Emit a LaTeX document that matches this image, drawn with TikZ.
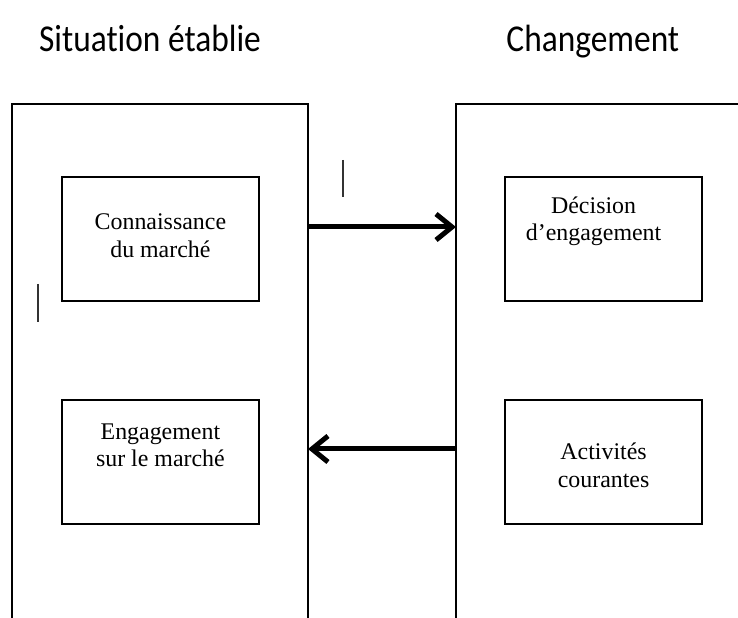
\documentclass[tikz,border=0pt]{standalone}
\usepackage{fontspec}
\setmainfont{Liberation Serif}
\newfontfamily\titlefont[FakeStretch=0.88,Ligatures=NoCommon]{Carlito}
\usetikzlibrary{arrows.meta}
\tikzset{
  box/.style={draw,black,line width=0.5mm,minimum width=4.925cm,minimum height=3.1cm},
  boxtext/.style={align=center,font=\fontsize{17}{19.5}\selectfont},
  title/.style={anchor=base,font=\titlefont\fontsize{27}{32}\selectfont},
  flow/.style={-{Straight Barb[length=4mm,width=6.5mm]},black,line width=1.25mm}
}
\begin{document}
\begin{tikzpicture}
        \useasboundingbox (0,0) rectangle (18.45,15.45);
        \clip (0,0) rectangle (18.45,15.45);

        \node[title] at (3.75,14.15) (sit){Situation établie};
        \node[title] at (14.82,14.15) (chg){Changement};

        \draw[-,black,line width=0.55mm] (0.3,-0.2) -- (0.3,12.85) -- (7.7,12.85) -- (7.7,-0.2); %situation
        \draw[-,black,line width=0.55mm] (11.4,-0.2) -- (11.4,12.85) -- (18.7,12.85); %changement

        \node[box] at (4.01,9.475) (con){};
        \node[box] at (15.09,9.475) (dec){};
        \node[box] at (4.01,3.9) (eng){};
        \node[box] at (15.09,3.9) (act){};

        \node[boxtext] at ([yshift=0.08cm]con.center) (contxt){Connaissance\\du marché};
        \node[boxtext] at ([shift={(-0.25,0.45)}]dec.center) (dectxt){Décision\\d’engagement};
        \node[boxtext] at ([yshift=0.42cm]eng.center) (engtxt){Engagement\\sur le marché};
        \node[boxtext] at ([yshift=-0.08cm]act.center) (acttxt){Activités\\courantes};

        \coordinate (sitr1) at (7.7,9.775);
        \coordinate (chgl1) at (11.4,9.775);
        \coordinate (sitr2) at (7.7,4.225);
        \coordinate (chgl2) at (11.4,4.225);
        \draw[flow] (sitr1) -- (chgl1); %vers changement
        \draw[flow] (chgl2) -- (sitr2); %retour

        \coordinate (m1a) at (8.575,11.45);
        \coordinate (m1b) at (8.575,10.525);
        \coordinate (m2a) at (0.95,8.35);
        \coordinate (m2b) at (0.95,7.4);
        \draw[-,black!80,line width=0.35mm] (m1a) -- (m1b);
        \draw[-,black!80,line width=0.35mm] (m2a) -- (m2b);
\end{tikzpicture}
\end{document}
